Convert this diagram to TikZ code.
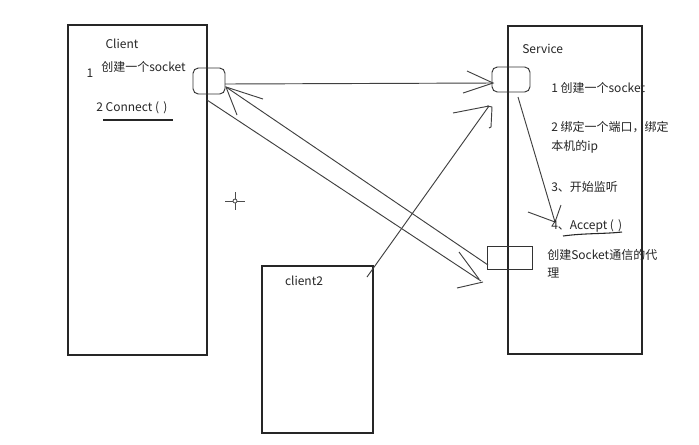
\documentclass[tikz,border=0pt]{standalone}
\usepackage{fontspec}
\setmainfont{Noto Sans CJK SC}
\usetikzlibrary{fit}
\begin{document}
\begin{tikzpicture}[x=0.75pt,y=-0.75pt,
  frame/.style={draw=black!85,line width=0.9pt,inner sep=0pt},
  sock/.style={draw=black!80,line width=0.7pt,inner sep=0pt,rounded corners=4pt},
  pbox/.style={draw=black!80,line width=0.6pt,inner sep=0pt},
  conn/.style={draw=black!75,line width=0.7pt},
  tip/.style={draw=black!75,line width=0.7pt},
  lbl/.style={font=\fontsize{9}{11}\selectfont,text=black!85,inner sep=0pt}]
\useasboundingbox[fill=white] (0,0) rectangle (699,444);
% main boxes
\node[frame,fit={(68,25) (207,355)}] (client) {};
\node[frame,fit={(508,26) (642,354)}] (service) {};
\node[frame,fit={(262,266) (373,433)}] (client2) {};
% socket boxes
\node[sock,fit={(193,68) (225,94)}] (cs) {};
\node[sock,fit={(492,67) (530,92)}] (ss) {};
\node[pbox,fit={(487,246) (532,269)}] (proxy) {};
% connector end points
\coordinate (a1) at (225,84);
\coordinate (a2) at (493,83);
\coordinate (b1) at (488,265);
\coordinate (b2) at (226,87);
\coordinate (c1) at (207,100);
\coordinate (c2) at (481,281);
\coordinate (d1) at (367,277);
\coordinate (d2) at (489,106);
\coordinate (e1) at (518,97);
\coordinate (e2) at (555,222);
% connectors
\draw[conn] (a1) -- (a2);
\draw[tip] (467,71) -- (a2) -- (463,93);
\draw[conn] (b1) -- (b2);
\draw[tip] (263,99) -- (b2) -- (237,115);
\draw[conn] (c1) -- (c2);
\draw[tip] (459,252) -- (479,279);
\draw[tip] (457,288) -- (483,282);
\draw[conn] (d1) -- (d2);
\draw[tip] (453,113) -- (d2);
\draw[tip] (487,106) -- (492,107) -- (491,127) -- (489,128);
\draw[conn] (e1) -- (e2);
\draw[tip] (528,212) -- (e2) -- (561,205);
% crosshair
\coordinate (cross) at (235,201);
\draw[black!70,line width=0.6pt] (cross) circle (2);
\draw[black!70,line width=0.6pt] (225,201) -- (233,201) (237,201) -- (245,201)
  (235,192) -- (235,199) (235,203) -- (235,210);
% labels
\node[lbl] (tclient) at (122,44) {Client};
\node[lbl] (t1) at (90,73) {1};
\node[lbl,anchor=west] (t1b) at (101,67) {创建一个socket};
\node[lbl,anchor=west] (t2) at (96,108) {2 Connect (\hspace{0.35em})};
\draw[black!85,line width=0.8pt] (103,120) -- (173,120);
\node[lbl,anchor=west] (tservice) at (522,49) {Service};
\node[lbl,anchor=west] (s1) at (551,88) {1 创建一个socket};
\node[lbl,anchor=west] (s2) at (551,127) {2 绑定一个端口，绑定};
\node[lbl,anchor=west] (s2b) at (551,147) {本机的ip};
\node[lbl,anchor=west] (s3) at (551,187) {3、开始监听};
\node[lbl,anchor=west] (s4) at (551,226) {4、Accept (\hspace{0.35em})};
\draw[black!85,line width=0.8pt] (563,236) .. controls (585,233) and (605,234) .. (622,232);
\node[lbl,anchor=west] (s5) at (547,255) {创建Socket通信的代};
\node[lbl,anchor=west] (s5b) at (547,273) {理};
\node[lbl] (tclient2) at (304,281) {client2};
\end{tikzpicture}
\end{document}
